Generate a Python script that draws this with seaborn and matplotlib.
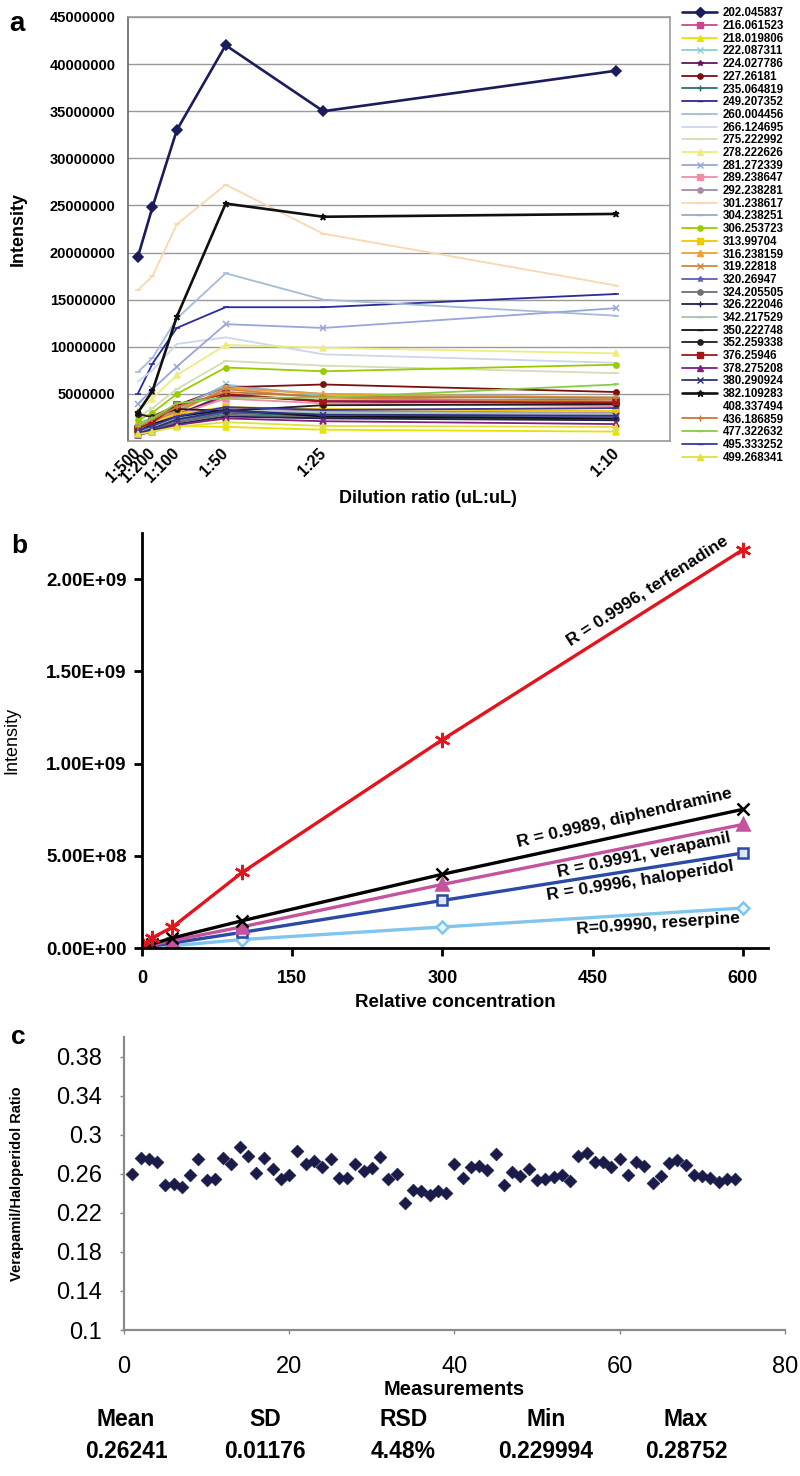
import numpy as np
import pandas as pd
import matplotlib
matplotlib.use('Agg')
import matplotlib.pyplot as plt
import seaborn as sns
from matplotlib.lines import Line2D

# ---------------- panel a: dilution series ----------------
dilution_labels = ['1:500', '1:200', '1:100', '1:50', '1:25', '1:10']
dilution_ratio = [1 / 500, 1 / 200, 1 / 100, 1 / 50, 1 / 25, 1 / 10]

mz_labels = ['202.045837', '216.061523', '218.019806', '222.087311', '224.027786',
             '227.26181', '235.064819', '249.207352', '260.004456', '266.124695',
             '275.222992', '278.222626', '281.272339', '289.238647', '292.238281',
             '301.238617', '304.238251', '306.253723', '313.99704', '316.238159',
             '319.22818', '320.26947', '324.205505', '326.222046', '342.217529',
             '350.222748', '352.259338', '376.25946', '378.275208', '380.290924',
             '382.109283', '408.337494', '436.186859', '477.322632', '495.333252',
             '499.268341']

# intensities in millions, one row per m/z, columns follow dilution_labels
intensity_m = [
    [19.5, 24.8, 33.0, 42.0, 35.0, 39.3],
    [1.2, 1.5, 2.6, 4.8, 4.3, 4.4],
    [0.8, 1.2, 1.6, 1.5, 1.2, 1.0],
    [1.5, 2.2, 3.3, 6.0, 4.8, 4.5],
    [1.0, 1.6, 2.8, 4.9, 4.2, 4.0],
    [2.8, 2.6, 3.8, 5.7, 6.0, 5.2],
    [0.9, 1.3, 2.0, 3.0, 2.6, 2.6],
    [5.0, 8.2, 12.0, 14.2, 14.2, 15.6],
    [7.3, 8.8, 13.0, 17.8, 15.0, 13.3],
    [6.3, 7.5, 10.3, 11.0, 9.2, 8.3],
    [2.5, 3.5, 5.5, 8.5, 8.0, 7.2],
    [3.2, 4.5, 7.0, 10.2, 9.9, 9.3],
    [3.9, 5.5, 7.9, 12.4, 12.0, 14.1],
    [1.1, 1.7, 2.8, 4.5, 4.0, 3.7],
    [0.9, 1.4, 2.4, 3.5, 3.2, 3.0],
    [16.0, 17.5, 23.0, 27.2, 22.0, 16.5],
    [1.8, 2.5, 3.6, 5.8, 5.0, 4.6],
    [2.2, 3.0, 5.0, 7.8, 7.4, 8.1],
    [1.3, 1.8, 2.9, 3.6, 3.4, 3.2],
    [1.6, 2.3, 3.0, 5.6, 5.0, 4.6],
    [1.4, 2.0, 3.2, 5.5, 4.6, 4.2],
    [1.0, 1.4, 2.2, 3.1, 2.8, 2.6],
    [0.8, 1.2, 2.0, 2.8, 2.5, 2.3],
    [0.7, 1.1, 1.8, 2.6, 2.4, 2.2],
    [0.9, 1.5, 2.5, 3.3, 3.0, 2.9],
    [1.0, 1.8, 2.6, 3.3, 2.6, 2.4],
    [2.9, 2.5, 3.4, 3.2, 3.8, 3.9],
    [1.3, 2.0, 3.8, 5.0, 4.2, 4.1],
    [0.6, 1.0, 1.7, 2.4, 2.1, 1.8],
    [0.8, 1.3, 2.3, 3.2, 2.8, 2.7],
    [3.0, 5.3, 13.2, 25.2, 23.8, 24.1],
    None,
    [1.5, 2.3, 3.6, 5.2, 4.7, 4.6],
    [1.6, 2.4, 4.0, 4.6, 4.6, 6.0],
    [1.1, 1.6, 2.6, 3.6, 3.3, 3.5],
    [0.7, 1.0, 1.5, 2.0, 1.6, 1.5],
]

mz_colors = ['#1c1c5c', '#c8488c', '#e4e400', '#8cccdc', '#5a1a5a', '#7a1010',
             '#2a7070', '#2a2a9a', '#a4bcd8', '#ccd6ec', '#d4dcb8', '#ecec80',
             '#98a6d8', '#f08ca8', '#a68aa8', '#f8d8b0', '#90b0c8', '#99cc00',
             '#f0c800', '#f0a030', '#d08840', '#6060b0', '#707070', '#202050',
             '#a8c0b0', '#101010', '#202020', '#a01818', '#802080', '#303080',
             '#101010', 'none', '#c87838', '#88cc44', '#3838a0', '#e0e040']
mz_markers = ['D', 's', '^', 'x', '*', 'o', '+', '_', '_', '', '_', '^', 'x', 's',
              'o', '_', '_', 'o', 's', '^', 'x', '*', 'o', '+', '_', '_', 'o', 's',
              '^', 'x', '*', '', '+', '_', '_', '^']

# ---------------- panel b: calibration ----------------
rel_conc = [1, 10, 30, 100, 300, 600]
compounds = ['terfenadine', 'diphendramine', 'verapamil', 'haloperidol', 'reserpine']
terfenadine = [0.010e9, 0.055e9, 0.112e9, 0.41e9, 1.13e9, 2.16e9]
diphendramine = [0.004e9, 0.022e9, 0.054e9, 0.148e9, 0.40e9, 0.752e9]
verapamil = [0.003e9, 0.016e9, 0.040e9, 0.115e9, 0.345e9, 0.670e9]
haloperidol = [0.002e9, 0.011e9, 0.027e9, 0.085e9, 0.258e9, 0.515e9]
reserpine = [0.001e9, 0.004e9, 0.012e9, 0.046e9, 0.114e9, 0.217e9]
fit_labels = ['R = 0.9996, terfenadine', 'R = 0.9989, diphendramine',
              'R = 0.9991, verapamil', 'R = 0.9996, haloperidol',
              'R=0.9990, reserpine']

# ---------------- panel c: ratio repeatability ----------------
ratio = [0.260, 0.2765, 0.275, 0.2725, 0.2485, 0.250, 0.246, 0.259, 0.275, 0.2535,
         0.255, 0.2765, 0.270, 0.287, 0.278, 0.2605, 0.2765, 0.265, 0.255, 0.2585,
         0.283, 0.2705, 0.273, 0.2665, 0.275, 0.256, 0.256, 0.2705, 0.263, 0.266,
         0.277, 0.255, 0.2595, 0.2305, 0.2435, 0.242, 0.2378, 0.2425, 0.240, 0.270,
         0.256, 0.2665, 0.268, 0.264, 0.280, 0.2485, 0.2615, 0.2575, 0.265, 0.2535,
         0.255, 0.2567, 0.2584, 0.253, 0.278, 0.2815, 0.2725, 0.2725, 0.267, 0.275,
         0.259, 0.2725, 0.268, 0.251, 0.2575, 0.2715, 0.274, 0.269, 0.259, 0.2575,
         0.256, 0.252, 0.255, 0.255]
measurement = list(range(1, len(ratio) + 1))
stat_names = ['Mean', 'SD', 'RSD', 'Min', 'Max']
stat_values = ['0.26241', '0.01176', '4.48%', '0.229994', '0.28752']

sns.set_style('white')
plt.rcParams['font.family'] = ['Liberation Sans', 'DejaVu Sans']
plt.rcParams['text.color'] = 'black'
plt.rcParams['axes.labelcolor'] = 'black'
plt.rcParams['xtick.color'] = 'black'
plt.rcParams['ytick.color'] = 'black'
narrow = ['Liberation Sans Narrow', 'Liberation Sans', 'DejaVu Sans']

fig = plt.figure(figsize=(8, 14.76), dpi=100)

# ===== panel a =====
ax_a = fig.add_axes([0.16, 0.7012, 0.6775, 0.2873])
handles = []
for lab, vals, col, mk in zip(mz_labels, intensity_m, mz_colors, mz_markers):
    big = lab in ('202.045837', '382.109283')
    lw = 1.9 if big else 1.3
    ms = 5 if big else 3.8
    if vals is not None:
        sns.lineplot(x=dilution_ratio, y=np.array(vals) * 1e6, ax=ax_a, color=col,
                     lw=lw, marker=mk if mk else None, markersize=ms,
                     markeredgecolor=col, markerfacecolor=col, markeredgewidth=1.1)
    handles.append(Line2D([], [], color=col, lw=lw, marker=mk if mk else None,
                          markersize=ms, markeredgecolor=col, markerfacecolor=col))

ax_a.set_xlim(0, 0.111)
ax_a.set_ylim(0, 45e6)
yt = np.arange(5e6, 45e6 + 1, 5e6)
ax_a.set_yticks(yt)
ax_a.set_yticklabels([f'{int(v)}' for v in yt], fontweight='bold', fontsize=10.5)
ax_a.yaxis.grid(True, color='#9a9a9a', lw=1)
ax_a.set_axisbelow(True)
ax_a.set_xticks(dilution_ratio)
ax_a.set_xticklabels(dilution_labels, rotation=45, ha='right', va='center',
                     rotation_mode='anchor', fontweight='bold', fontsize=11.5)
ax_a.tick_params(axis='x', length=0, pad=7)
ax_a.tick_params(axis='y', length=3, color='#777777', pad=6)
for s in ax_a.spines.values():
    s.set_color('#9a9a9a')
    s.set_linewidth(1.2)
ax_a.spines['left'].set_color('#666666')
ax_a.set_xlabel('Dilution ratio (uL:uL)', fontweight='bold', fontsize=13)
ax_a.xaxis.set_label_coords(0.553, -0.115)
ax_a.set_ylabel('Intensity', fontweight='bold', fontsize=13)
ax_a.yaxis.set_label_coords(-0.186, 0.5)
ax_a.legend(handles=handles, labels=mz_labels, loc='upper left',
            bbox_to_anchor=(0.853, 0.995), bbox_transform=fig.transFigure,
            frameon=False, prop={'weight': 'bold', 'size': 8.3},
            handlelength=3.0, handletextpad=0.5, labelspacing=0.06,
            borderpad=0, borderaxespad=0)
fig.text(0.012, 0.9925, 'a', fontsize=20, fontweight='bold', va='top')

# ===== panel b =====
ax_b = fig.add_axes([0.1775, 0.3577, 0.7825, 0.2812])
b_values = [terfenadine, diphendramine, verapamil, haloperidol, reserpine]
b_colors = ['#e4141c', '#000000', '#c4529c', '#2a4aa6', '#80c6ec']
b_markers = [(6, 2, 0), 'x', '^', 's', 'D']
b_face = ['#e4141c', '#000000', '#c4529c', '#dde6f6', '#e6f4fc']
b_size = [11, 9, 8, 6.5, 6.5]
for i in [4, 3, 2, 1, 0]:
    sns.lineplot(x=rel_conc, y=b_values[i], ax=ax_b, color=b_colors[i], lw=2.4,
                 marker=b_markers[i], markersize=b_size[i],
                 markeredgecolor=b_colors[i], markerfacecolor=b_face[i],
                 markeredgewidth=1.8)

ax_b.set_xlim(0, 625)
ax_b.set_ylim(0, 2.25e9)
ax_b.set_xticks([0, 150, 300, 450, 600])
ax_b.set_xticklabels(['0', '150', '300', '450', '600'], fontweight='bold', fontsize=13)
ybt = [0, 0.5e9, 1.0e9, 1.5e9, 2.0e9]
ax_b.set_yticks(ybt)
ax_b.set_yticklabels([f'{v:.2E}' for v in ybt], fontweight='bold', fontsize=13.5)
ax_b.tick_params(axis='both', direction='out', length=6, width=2, color='black',
                 bottom=True, left=True, pad=5)
ax_b.tick_params(axis='x', pad=10)
for s in ['top', 'right']:
    ax_b.spines[s].set_visible(False)
for s in ['left', 'bottom']:
    ax_b.spines[s].set_color('black')
    ax_b.spines[s].set_linewidth(2)
ax_b.set_xlabel('Relative concentration', fontweight='bold', fontsize=13.5)
ax_b.xaxis.set_label_coords(0.5, -0.11)
ax_b.set_ylabel('Intensity', fontsize=13, family=narrow)
ax_b.yaxis.set_label_coords(-0.195, 0.5)

text_pos = [(505, 1.936e9), (482, 0.705e9), (501, 0.504e9), (497, 0.363e9), (515, 0.130e9)]
text_rot = [33, 13, 11.5, 9, 4]
for lab, (tx, ty), rot in zip(fit_labels, text_pos, text_rot):
    ax_b.text(tx, ty, lab, rotation=rot, rotation_mode='anchor', ha='center',
              va='center', fontsize=12.5, fontweight='bold')
fig.text(0.014, 0.6385, 'b', fontsize=19, fontweight='bold', va='top')

# ===== panel c =====
ax_c = fig.add_axes([0.155, 0.0989, 0.826, 0.1985])
sns.scatterplot(x=measurement, y=ratio, ax=ax_c, marker='D', s=42,
                color='#1b1b4a', edgecolor='#1b1b4a', linewidth=0.5)
ax_c.set_xlim(0, 80)
ax_c.set_ylim(0.1, 0.40)
yct = [0.1, 0.14, 0.18, 0.22, 0.26, 0.3, 0.34, 0.38]
ax_c.set_yticks(yct)
ax_c.set_yticklabels([f'{v:g}' for v in yct], fontsize=17, family=narrow)
ax_c.set_xticks([0, 20, 40, 60, 80])
ax_c.set_xticklabels(['0', '20', '40', '60', '80'], fontsize=17, family=narrow)
ax_c.tick_params(axis='both', direction='out', length=3, width=1, color='#888888',
                 bottom=True, left=True)
ax_c.tick_params(axis='x', pad=16)
ax_c.tick_params(axis='y', pad=13)
for s in ['top', 'right']:
    ax_c.spines[s].set_visible(False)
for s in ['left', 'bottom']:
    ax_c.spines[s].set_color('#8a8a8a')
    ax_c.spines[s].set_linewidth(1.6)
ax_c.set_xlabel('Measurements', fontweight='bold', fontsize=14.5, family=narrow)
ax_c.xaxis.set_label_coords(0.5, -0.17)
ax_c.set_ylabel('Verapamil/Haloperidol Ratio', fontweight='bold', fontsize=10.5,
                family=narrow)
ax_c.yaxis.set_label_coords(-0.151, 0.5)
fig.text(0.014, 0.3055, 'c', fontsize=19, fontweight='bold', va='top')

stat_x = [0.1575, 0.331, 0.504, 0.6825, 0.8575]
for sx, nm, val in zip(stat_x, stat_names, stat_values):
    fig.text(sx, 0.0385, nm, ha='center', va='center', fontsize=16.5,
             fontweight='bold', family=narrow)
    fig.text(sx, 0.0163, val, ha='center', va='center', fontsize=16.5,
             fontweight='bold', family=narrow)

fig.savefig('out.png', dpi=100, facecolor='white')
